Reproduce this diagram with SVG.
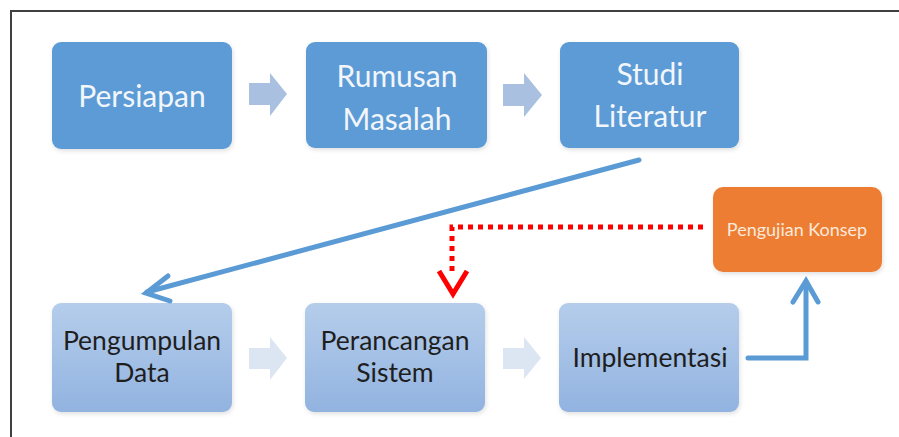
<svg xmlns="http://www.w3.org/2000/svg" width="899" height="437" viewBox="0 0 899 437">
<defs>
<linearGradient id="lg" x1="0" y1="0" x2="0" y2="1">
<stop offset="0" stop-color="#B5CDEB"/>
<stop offset="1" stop-color="#92B3E0"/>
</linearGradient>
<filter id="sh" x="-10%" y="-10%" width="130%" height="130%">
<feDropShadow dx="1" dy="2" stdDeviation="2" flood-color="#000" flood-opacity="0.12"/>
</filter>
</defs>
<style>
.top{fill:#5B9BD5;filter:url(#sh)}
.bot{fill:url(#lg);filter:url(#sh)}
.tt{font-family:Lato,"Open Sans","Liberation Sans",sans-serif;font-size:30px;fill:#F2F6FB;text-anchor:middle}
.bt{font-family:Lato,"Open Sans","Liberation Sans",sans-serif;font-size:26.5px;fill:#1E1E1E;text-anchor:middle}
.blk1{fill:#A9C0E0}
.blk2{fill:#DCE5F2}
.blue{fill:none;stroke:#5B9BD5;stroke-width:5;stroke-linecap:round;stroke-linejoin:miter}
.red{fill:none;stroke:#FF0000;stroke-width:5}
</style>
<rect width="899" height="437" fill="#FFFFFF"/>
<path d="M11,437 V11 H899" fill="none" stroke="#404040" stroke-width="2"/>
<g id="persiapan">
<rect class="top" x="52" y="42" width="180" height="107" rx="9"/>
<text class="tt" x="142" y="107">Persiapan</text>
</g>
<g id="rumusan">
<rect class="top" x="306" y="42" width="181" height="106" rx="9"/>
<text class="tt" x="397" y="87">Rumusan</text>
<text class="tt" x="397" y="130">Masalah</text>
</g>
<g id="studi">
<rect class="top" x="560" y="42" width="179" height="106" rx="9"/>
<text class="tt" x="650" y="85">Studi</text>
<text class="tt" x="650" y="127">Literatur</text>
</g>
<g id="pengumpulan">
<rect class="bot" x="52" y="303" width="180" height="109" rx="9"/>
<text class="bt" x="142" y="350">Pengumpulan</text>
<text class="bt" x="142" y="382">Data</text>
</g>
<g id="perancangan">
<rect class="bot" x="305" y="303" width="180" height="109" rx="9"/>
<text class="bt" x="395" y="350">Perancangan</text>
<text class="bt" x="395" y="382">Sistem</text>
</g>
<g id="implementasi">
<rect class="bot" x="559" y="303" width="180" height="109" rx="9"/>
<text class="bt" x="650" y="367">Implementasi</text>
</g>
<g id="pengujian">
<rect x="713" y="187" width="169" height="85" rx="10" fill="#ED7D31" filter="url(#sh)"/>
<text x="797" y="236" font-family="Lato,'Open Sans','Liberation Sans',sans-serif" font-size="18" fill="#FBE9DC" text-anchor="middle">Pengujian Konsep</text>
</g>
<g id="connectors">
<path class="blk1" d="M249,83 H270 V73 L287,94 L270,116 V105 H249 Z"/>
<path class="blk1" d="M503,84 H524 V73 L542,95 L524,117 V106 H503 Z"/>
<path class="blk2" d="M249,348 H270 V337 L287,358 L270,380 V369 H249 Z"/>
<path class="blk2" d="M503,348 H524 V337 L541,358 L524,379 V369 H503 Z"/>
<path class="blue" d="M639,160 L147,292"/>
<path class="blue" d="M168,276 L146,293 L170,301"/>
<path class="blue" d="M748,358 H806 V282" stroke-linecap="butt"/>
<path class="blue" d="M793,302 L806,281 L818,302"/>
<path class="red" d="M703,227 H452 V272" stroke-dasharray="5,5"/>
<path class="red" d="M439,271 L453,294 L467,271"/>
</g>
</svg>
